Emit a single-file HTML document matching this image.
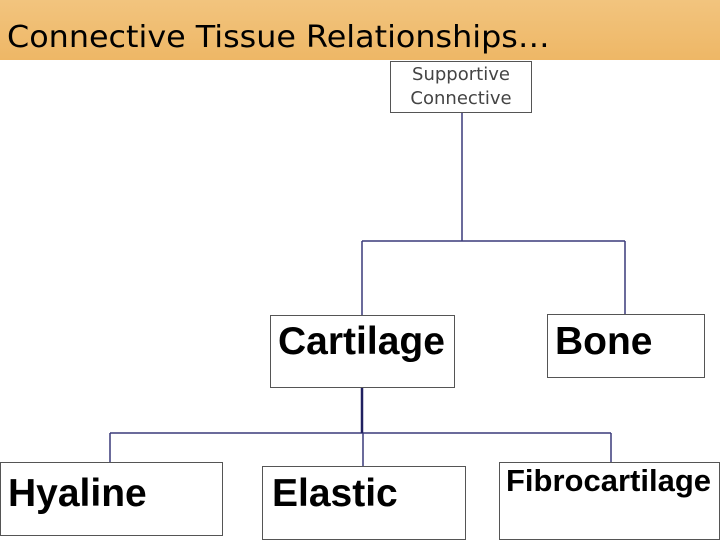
<!DOCTYPE html>
<html><head><meta charset="utf-8"><style>
body{margin:0;width:720px;height:540px;overflow:hidden;background:#fff;position:relative;font-family:"Liberation Sans",sans-serif}
.hdr{position:absolute;left:0;top:0;width:720px;height:60px;background:linear-gradient(#f2c47e,#eeb766)}
.t{position:absolute;left:7px;top:20px;font-family:"DejaVu Sans",sans-serif;font-size:30px;color:#000;transform:scaleX(1.06);transform-origin:left;white-space:nowrap}
.b{position:absolute;border:1.5px solid #555;background:#fff;box-sizing:border-box;color:#000;white-space:nowrap}
.big{font-weight:bold;font-size:39px}
</style></head><body>
<div class="hdr"></div>
<div class="t">Connective Tissue Relationships…</div>
<svg width="720" height="540" style="position:absolute;left:0;top:0">
<g stroke="#3a3a7a" stroke-width="1.5" fill="none">
<path d="M462 113V241M362 241H625M362 241V315M625 241V314M110 433H611M110 433V462M363 433V466M611 433V462"/>
<path d="M362 388V433" stroke-width="2.5" stroke="#202060"/>
</g></svg>
<div class="b" style="left:390px;top:61px;width:142px;height:52px;font-family:'DejaVu Sans',sans-serif;font-size:18px;color:#444;text-align:center;line-height:24px;padding-top:1px">Supportive<br>Connective</div>
<div class="b big" style="left:270px;top:315px;width:185px;height:73px;padding:4px 0 0 7px">Cartilage</div>
<div class="b big" style="left:547px;top:314px;width:158px;height:64px;padding:5px 0 0 7px">Bone</div>
<div class="b big" style="left:0px;top:462px;width:223px;height:74px;padding:9px 0 0 7px">Hyaline</div>
<div class="b big" style="left:262px;top:466px;width:204px;height:74px;padding:5px 0 0 9px">Elastic</div>
<div class="b" style="left:499px;top:462px;width:221px;height:78px;padding:0 0 0 6px;font-weight:bold;font-size:31px">Fibrocartilage</div>
</body></html>
